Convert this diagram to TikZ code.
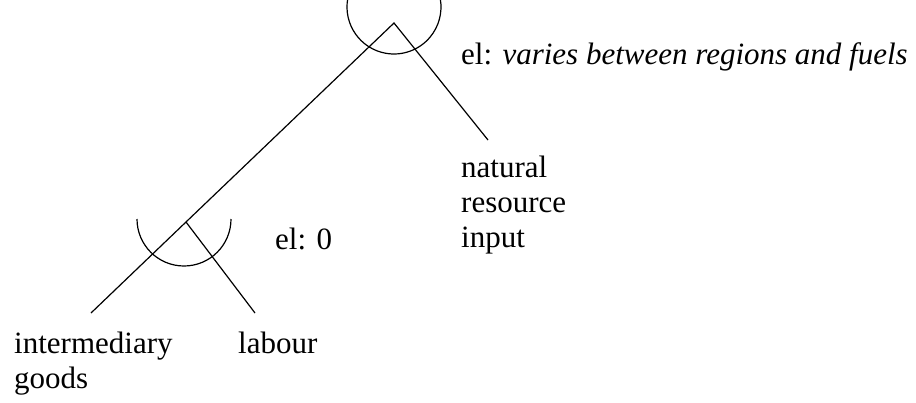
\documentclass[tikz,border=0pt]{standalone}
\usepackage{fontspec}
\setmainfont{Liberation Serif}
\usetikzlibrary{positioning}

\begin{document}
\begin{tikzpicture}[x=1pt,y=-1pt,
  lbl/.style={inner sep=0pt,anchor=base west,align=left,
              font=\fontsize{31}{35}\selectfont},
  branch/.style={line width=1.2pt},
  nest/.style={line width=1.2pt}]
  \useasboundingbox (0,0) rectangle (916,402);
  % nesting points and branch ends
  \coordinate (top) at (394,23);
  \coordinate (low) at (186,222);
  \coordinate (ig) at (91,313);
  \coordinate (lab) at (255,313);
  \coordinate (nat) at (488,140);
  \draw[branch] (ig) -- (low) -- (top) -- (nat);
  \draw[branch] (low) -- (lab);
  % elasticity arcs
  \draw[nest] (394,7) ++(190:47) arc[start angle=190,end angle=-10,radius=47];
  \draw[nest] (184,219) ++(180:47) arc[start angle=180,end angle=0,radius=47];
  % labels (base = last line)
  \node[lbl] (eltop) at (461,64) {el: \textit{varies between regions and fuels}};
  \node[lbl] (ellow) at (275,249) {el: 0};
  \node[lbl] (nri) at (461,247) {natural\\resource\\input};
  \node[lbl] (igl) at (14,388) {intermediary\\goods};
  \node[lbl] (labl) at (238,353) {labour};
\end{tikzpicture}
\end{document}
